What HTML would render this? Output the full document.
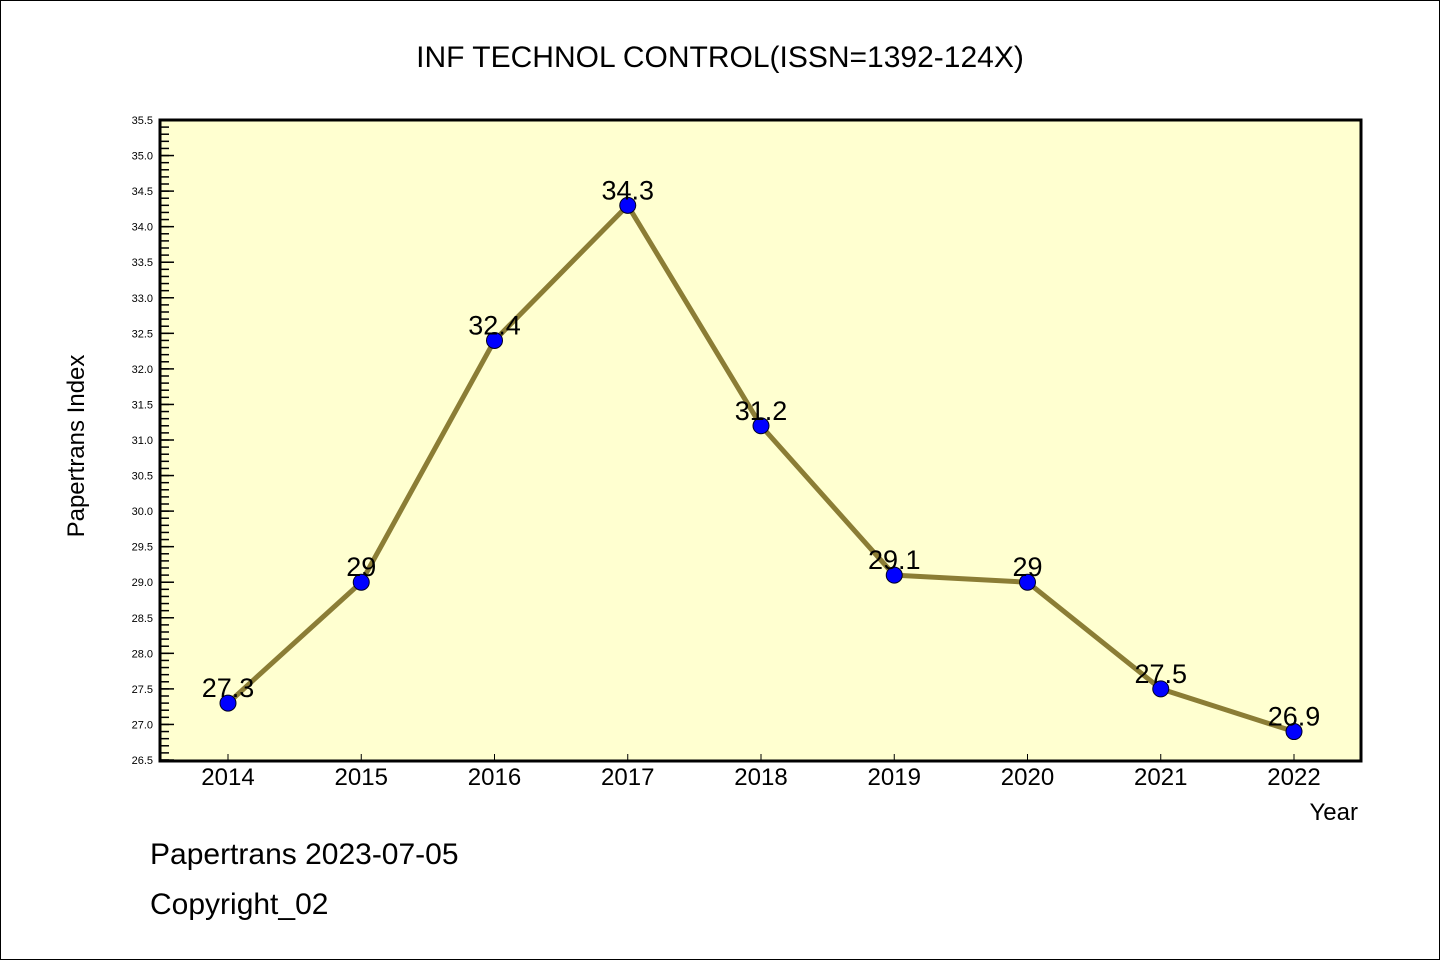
<!DOCTYPE html>
<html><head><meta charset="utf-8"><style>
html,body{margin:0;padding:0;background:#fff}
svg{display:block;font-family:"WenQuanYi Zen Hei","Liberation Sans",sans-serif}
</style></head><body>
<svg id="c" width="1440" height="960" viewBox="0 0 1440 960">
<rect x="0.5" y="0.5" width="1439" height="959" fill="#fff" stroke="#000"/>
<text x="720" y="67" font-size="30" text-anchor="middle">INF TECHNOL CONTROL(ISSN=1392-124X)</text>
<rect x="160" y="120" width="1201" height="641" fill="#ffffd0"/>
<g id="ticks"></g>
<g id="series"></g>
<rect x="160" y="120" width="1201" height="641" fill="none" stroke="#000" stroke-width="3"/>
<text transform="translate(84,446) rotate(-90)" font-size="24" text-anchor="middle">Papertrans Index</text>
<text x="1358" y="820" font-size="24" text-anchor="end">Year</text>
<text x="150" y="864" font-size="30">Papertrans 2023-07-05</text>
<text x="150" y="914" font-size="30">Copyright_02</text>
</svg>
<script>
const years = ["2014","2015","2016","2017","2018","2019","2020","2021","2022"];
const values = [27.3, 29, 32.4, 34.3, 31.2, 29.1, 29, 27.5, 26.9];
const valueLabels = ["27.3","29","32.4","34.3","31.2","29.1","29","27.5","26.9"];
const yTicks = ["26.5","27.0","27.5","28.0","28.5","29.0","29.5","30.0","30.5","31.0","31.5","32.0","32.5","33.0","33.5","34.0","34.5","35.0","35.5"];
const yMin = 26.5, yMax = 35.5;
const NS = "http://www.w3.org/2000/svg";
function yS(v){ return 760 - (v - yMin) / (yMax - yMin) * 640; }
function xS(i){ return 228 + i * (1294 - 228) / (years.length - 1); }
function mk(tag, attrs, parent){ const e = document.createElementNS(NS, tag); for (const k in attrs) e.setAttribute(k, attrs[k]); parent.appendChild(e); return e; }
const tg = document.getElementById("ticks");
const sg = document.getElementById("series");
// minor ticks
for (let v = yMin; v <= yMax + 1e-9; v += 0.1) {
  const y = yS(v);
  const t = mk("line", {x1:160, x2:169, y1:y, y2:y, stroke:"#000", "stroke-width":1.5}, tg);
  
  
}
yTicks.forEach(function(lbl){
  const y = yS(parseFloat(lbl));
  const t = mk("line", {x1:160, x2:174, y1:y, y2:y, stroke:"#000", "stroke-width":1.5}, tg);
  
  
  const tx = mk("text", {x:153, y:y+4, "font-size":11, "text-anchor":"end"}, tg);
  tx.textContent = lbl;
  
  
});
years.forEach(function(yr, i){
  const x = xS(i);
  const t = mk("line", {x1:x, x2:x, y1:754, y2:760, stroke:"#000", "stroke-width":1}, tg);
  
  
  const tx = mk("text", {x:x, y:785, "font-size":24, "text-anchor":"middle"}, tg);
  tx.textContent = yr;
  
  
});
const pts = values.map(function(v,i){ return xS(i)+","+yS(v); }).join(" ");
const line = mk("polyline", {points:pts, fill:"none", stroke:"#8b7d35", "stroke-width":5, "stroke-linejoin":"round"}, sg);


values.forEach(function(v,i){
  const c = mk("circle", {cx:xS(i), cy:yS(v), r:8, fill:"#0000ff", stroke:"#000022", "stroke-width":1}, sg);
  
  
  const t = mk("text", {x:xS(i), y:yS(v)-6, "font-size":27, "text-anchor":"middle"}, sg);
  t.textContent = valueLabels[i];
  
  
});
</script>
</body></html>
